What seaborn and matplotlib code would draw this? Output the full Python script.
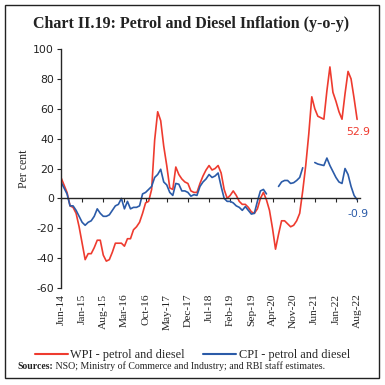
import numpy as np
import pandas as pd
import matplotlib.pyplot as plt
import seaborn as sns

# monthly, Jun-14 .. Aug-22
months = pd.date_range('2014-06-01', periods=99, freq='MS')
month_labels = months.strftime('%b-%y')

wpi = [14, 9, 4, -5, -6, -10, -19, -30, -41, -37,
       -37, -33, -28, -28, -38, -42, -41, -36, -30, -30,
       -30, -32, -27, -27, -21, -19, -16, -10, -3, -2,
       6, 39, 58, 52, 35, 22, 7, 6, 21, 16,
       13, 11, 10, 5, 4, 4, 10, 15, 19, 22,
       19, 20, 22, 17, 6, 0, 2, 5, 2, -2,
       -4, -4, -6, -9, -10, -7, 0, 4, -1, -8,
       -20, -34, -24, -15, -15, -17, -19, -18, -15, -10,
       5, 22, 43, 68, 60, 55, 54, 53, 72, 88,
       71, 65, 58, 53, 70, 85, 80, 67, 52.9]

cpi = [11, 7, 3, -5, -5, -8, -12, -16, -18, -16,
       -15, -12, -7, -10, -12, -12, -11, -8, -5, -4,
       0, -7, -2, -7, -6, -6, -5, 3, 4, 6,
       8, 14, 16, 19.5, 11, 9, 4, 2, 10, 9.5,
       5, 5, 4, 1.5, 2.5, 2, 8, 11, 13, 16,
       14, 15, 17, 8, 0, -2, -2, -3, -5, -6,
       -8, -5.5, -8, -10.5, -10, -2, 5, 6, 3, np.nan,
       np.nan, np.nan, 8, 11, 12, 12, 10, 10.5, 12, 14,
       20.5, np.nan, np.nan, np.nan, 24, 23, 22.5, 22, 27, 22,
       18, 14, 11, 10, 20, 16, 8, 2, -0.9]

series_names = ['WPI - petrol and diesel', 'CPI - petrol and diesel']
colors = ['#EE3B2F', '#2B5BA8']

df = pd.DataFrame({'idx': np.arange(len(months)), 'WPI': wpi, 'CPI': cpi})

sns.set_style('ticks')
plt.rcParams['font.family'] = ['Liberation Serif', 'DejaVu Sans']

fig = plt.figure(figsize=(3.85, 3.85), dpi=100)
ax = fig.add_axes([0.1584, 0.2519, 0.777, 0.6208])

# plot each series split at gaps so missing months leave a break
for col, name, c in zip(['WPI', 'CPI'], series_names, colors):
    d = df[['idx', col]].copy()
    d['seg'] = d[col].isna().cumsum()
    d = d.dropna()
    sns.lineplot(data=d, x='idx', y=col, units='seg', estimator=None,
                 color=c, lw=1.2, ax=ax, label=None)

ax.set_xlim(0, 99)
ax.set_ylim(-60, 100)
ax.set_yticks(range(-60, 101, 20))
ax.set_yticklabels([str(v) for v in range(-60, 101, 20)], family='DejaVu Sans', fontsize=7.8, color='#222222')
ax.set_ylabel('Per cent', fontsize=8.5, labelpad=2)
ax.set_xlabel('')

ax.spines['top'].set_visible(False)
ax.spines['right'].set_visible(False)
ax.spines['bottom'].set_position(('data', 0))
ax.spines['left'].set_linewidth(1.0)
ax.spines['bottom'].set_linewidth(1.0)
tick_pos = list(range(0, 99, 7))
ax.set_xticks(tick_pos)
ax.tick_params(axis='x', labelbottom=False, length=3, width=0.8, direction='out')
ax.tick_params(axis='y', length=3, width=0.8, pad=2)

sec = ax.secondary_xaxis('bottom')
sec.set_xticks(tick_pos)
sec.set_xticklabels([month_labels[i] for i in tick_pos], rotation=90, fontsize=8.2, color='#222222')
sec.tick_params(length=0, pad=4)
sec.spines['bottom'].set_visible(False)

ax.text(98.2, wpi[-1] - 5, '52.9', color=colors[0], fontsize=7.8, family='DejaVu Sans', ha='center', va='top')
ax.text(98.2, cpi[-1] - 6, '-0.9', color=colors[1], fontsize=7.8, family='DejaVu Sans', ha='center', va='top')

handles = [plt.Line2D([], [], color=c, lw=1.5) for c in colors]
fig.legend(handles, series_names, loc='center', bbox_to_anchor=(0.5, 0.078), ncol=2,
           frameon=False, fontsize=8.8, handlelength=2.7, handletextpad=0.2, columnspacing=1.5)

fig.text(0.495, 0.937, 'Chart II.19: Petrol and Diesel Inflation (y-o-y)', ha='center', va='center',
         fontsize=11.5, fontweight='bold', color='#222222')
src = fig.text(0.044, 0.049, 'Sources:', fontsize=7, fontweight='bold', va='center', color='#222222')
ax.annotate(' NSO; Ministry of Commerce and Industry; and RBI staff estimates.', xy=(1, 0),
            xycoords=src, va='bottom', fontsize=7.1, color='#222222', annotation_clip=False)

fig.add_artist(plt.Rectangle((5 / 385, 7 / 385), 374 / 385, 373 / 385, transform=fig.transFigure,
                             fill=False, lw=1.0, color='#222222'))

fig.savefig('out.png', dpi=100)
